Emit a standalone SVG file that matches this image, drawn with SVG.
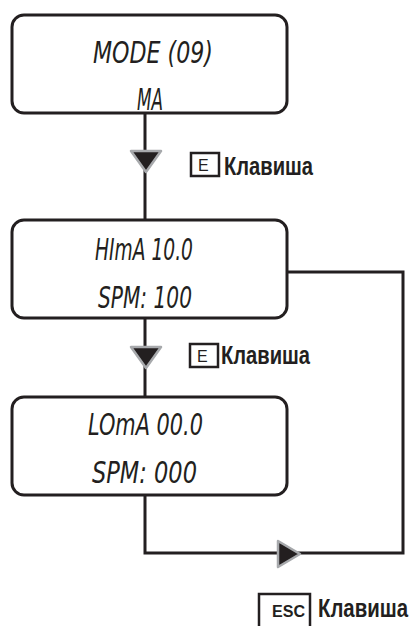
<svg xmlns="http://www.w3.org/2000/svg" width="412" height="626" viewBox="0 0 412 626">
<style>
.box{fill:#fff;stroke:#231f20;stroke-width:3}
.line{fill:none;stroke:#231f20;stroke-width:3}
.arr{fill:#231f20;stroke:#a7a9ac;stroke-width:2.5;stroke-linejoin:round}
.lcd{font-family:"DejaVu Sans Condensed","DejaVu Sans",sans-serif;font-style:italic;font-stretch:condensed;font-size:30px;fill:#231f20;text-anchor:start}
.key{fill:#fff;stroke:#231f20;stroke-width:2.5}
.kl{font-family:"Liberation Sans",Arial,sans-serif;font-weight:bold;font-size:26px;fill:#231f20}
.kt{font-family:"Liberation Sans",Arial,sans-serif;font-size:16px;fill:#231f20}
</style>
<rect width="412" height="626" fill="#fff"/>
<g id="connectors">
<path class="line" d="M145 113V220M145 318V397M287 272H403V553H145V495"/>
<path class="arr" d="M131 151H161L146 172Z"/>
<path class="arr" d="M131 347H161L146 368Z"/>
<path class="arr" d="M278 541L300 554L278 567Z"/>
</g>
<g id="node1">
<rect class="box" x="12" y="15" width="275" height="98" rx="12"/>
<text class="lcd" x="93" y="63" font-size="33" textLength="120" lengthAdjust="spacingAndGlyphs">MODE (09)</text>
<text class="lcd" x="137" y="110" textLength="26" lengthAdjust="spacingAndGlyphs">MA</text>
</g>
<g id="node2">
<rect class="box" x="12" y="220" width="275" height="98" rx="12"/>
<text class="lcd" x="95" y="260" textLength="98" lengthAdjust="spacingAndGlyphs">HImA 10.0</text>
<text class="lcd" x="98" y="308" textLength="94" lengthAdjust="spacingAndGlyphs">SPM: 100</text>
</g>
<g id="node3">
<rect class="box" x="12" y="397" width="275" height="98" rx="12"/>
<text class="lcd" x="88" y="435" textLength="115" lengthAdjust="spacingAndGlyphs">LOmA 00.0</text>
<text class="lcd" x="92" y="483" textLength="105" lengthAdjust="spacingAndGlyphs">SPM: 000</text>
</g>
<g id="key1">
<rect class="key" x="191" y="153" width="28" height="23"/>
<text class="kt" x="198" y="171">E</text>
<text class="kl" x="224" y="175" textLength="89" lengthAdjust="spacingAndGlyphs">Клавиша</text>
</g>
<g id="key2">
<rect class="key" x="190" y="344" width="28" height="23"/>
<text class="kt" x="197" y="362">E</text>
<text class="kl" x="221" y="364" textLength="89" lengthAdjust="spacingAndGlyphs">Клавиша</text>
</g>
<g id="key3">
<rect class="key" x="259" y="594" width="51" height="40"/>
<text class="kt" x="272" y="617" textLength="33" lengthAdjust="spacingAndGlyphs" font-weight="bold">ESC</text>
<text class="kl" x="318" y="617" textLength="90" lengthAdjust="spacingAndGlyphs">Клавиша</text>
</g>
</svg>
